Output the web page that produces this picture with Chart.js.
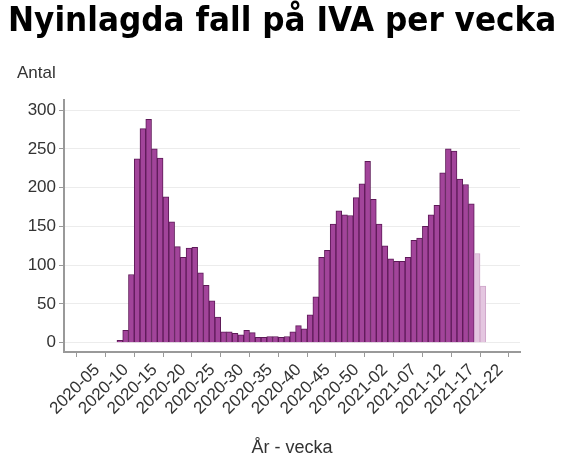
<!DOCTYPE html>
<html>
<head>
<meta charset="utf-8">
<script src="https://cdn.jsdelivr.net/npm/chart.js@4"></script>
<style>
  html, body { margin: 0; padding: 0; background: #fff; }
  #wrap { position: relative; width: 571px; height: 469px; overflow: hidden; }
  #title {
    position: absolute; left: 8px; top: -1px;
    font: bold 34px "DejaVu Sans", Verdana, sans-serif; color: #000;
    white-space: nowrap; transform-origin: 0 0;
  }
  #ylabel {
    position: absolute; left: 17px; top: 63px;
    font: 17px "Liberation Sans", Arial, sans-serif; color: #333;
  }
  canvas { position: absolute; left: 0; top: 0; }
</style>
</head>
<body>
<div id="wrap">
  <canvas id="chart" width="571" height="469"></canvas>
  <div id="title">Nyinlagda fall på IVA per vecka</div>
  <div id="ylabel">Antal</div>
</div>
<script>
// ------------------------
// DATA
// ------------------------
const weeks = [
  "2020-05","2020-06","2020-07","2020-08","2020-09","2020-10","2020-11","2020-12","2020-13","2020-14",
  "2020-15","2020-16","2020-17","2020-18","2020-19","2020-20","2020-21","2020-22","2020-23","2020-24",
  "2020-25","2020-26","2020-27","2020-28","2020-29","2020-30","2020-31","2020-32","2020-33","2020-34",
  "2020-35","2020-36","2020-37","2020-38","2020-39","2020-40","2020-41","2020-42","2020-43","2020-44",
  "2020-45","2020-46","2020-47","2020-48","2020-49","2020-50","2020-51","2020-52","2020-53",
  "2021-01","2021-02","2021-03","2021-04","2021-05","2021-06","2021-07","2021-08","2021-09","2021-10",
  "2021-11","2021-12","2021-13","2021-14","2021-15","2021-16","2021-17","2021-18","2021-19","2021-20",
  "2021-21","2021-22"
];

const antal = [
  null, null, null, null, null, 3, 16, 88, 237, 276,
  288, 250, 238, 188, 156, 124, 110, 122, 123, 90,
  74, 54, 33, 14, 14, 12, 10, 16, 13, 7,
  7, 8, 8, 7, 8, 14, 22, 18, 36, 59,
  110, 119, 153, 170, 165, 164, 187, 205, 234,
  185, 153, 125, 108, 105, 105, 110, 132, 135, 150,
  165, 177, 219, 250, 247, 211, 204, 179, 115, 73,
  null, null
];

// weeks that are not yet complete (drawn pale)
const preliminara = ["2021-19", "2021-20"];

const xTickLabels = ["2020-05","2020-10","2020-15","2020-20","2020-25","2020-30","2020-35","2020-40",
  "2020-45","2020-50","2021-02","2021-07","2021-12","2021-17","2021-22"];
const yTicks = [0, 50, 100, 150, 200, 250, 300];

// ------------------------
// TITLE WIDTH
// ------------------------
const titleEl = document.getElementById("title");
titleEl.style.transform = `scaleX(${548 / titleEl.offsetWidth})`;

// ------------------------
// CHART
// ------------------------
const points = antal.map((v, i) => ({ x: i, y: v }));
const isPrelim = (i) => preliminara.includes(weeks[i]);

const tickFont = { family: "'Liberation Sans', Arial, sans-serif", size: 17 };

new Chart(document.getElementById("chart"), {
  type: "bar",
  data: {
    datasets: [{
      label: "Antal",
      data: points,
      backgroundColor: (ctx) => isPrelim(ctx.dataIndex) ? "#e4c6e0" : "#a2449a",
      borderColor: (ctx) => isPrelim(ctx.dataIndex) ? "#cfa6ca" : "#5e1a58",
      borderWidth: 1,
      barPercentage: 1,
      categoryPercentage: 1
    }]
  },
  options: {
    responsive: false,
    animation: false,
    layout: { padding: { top: 100, right: 51, bottom: 8, left: 0 } },
    plugins: {
      legend: { display: false },
      title: { display: false },
      tooltip: { enabled: false }
    },
    scales: {
      x: {
        type: "linear",
        min: -2.05,
        max: 71.8,
        afterBuildTicks: (scale) => {
          scale.ticks = xTickLabels.map(l => ({ value: weeks.indexOf(l) }));
        },
        afterFit: (scale) => { scale.height = 109; },
        ticks: {
          autoSkip: false,
          minRotation: 45,
          maxRotation: 45,
          padding: 3,
          labelOffset: 6,
          color: "#333",
          font: tickFont,
          callback: (v) => weeks[v]
        },
        grid: {
          drawOnChartArea: false,
          color: "#999",
          tickColor: "#999",
          tickLength: 5
        },
        border: { display: true, color: "#999", width: 2 },
        title: {
          display: true,
          text: "År - vecka",
          color: "#333",
          font: { family: "'Liberation Sans', Arial, sans-serif", size: 18 },
          padding: { top: 0, bottom: 2 }
        }
      },
      y: {
        min: -12,
        max: 313,
        afterBuildTicks: (scale) => {
          scale.ticks = yTicks.map(v => ({ value: v }));
        },
        afterFit: (scale) => { scale.width = 64; },
        ticks: {
          padding: 3,
          color: "#333",
          font: tickFont
        },
        grid: {
          color: "#ececec",
          tickColor: "#999",
          tickLength: 5
        },
        border: { display: true, color: "#999", width: 2 }
      }
    }
  }
});
</script>
</body>
</html>
